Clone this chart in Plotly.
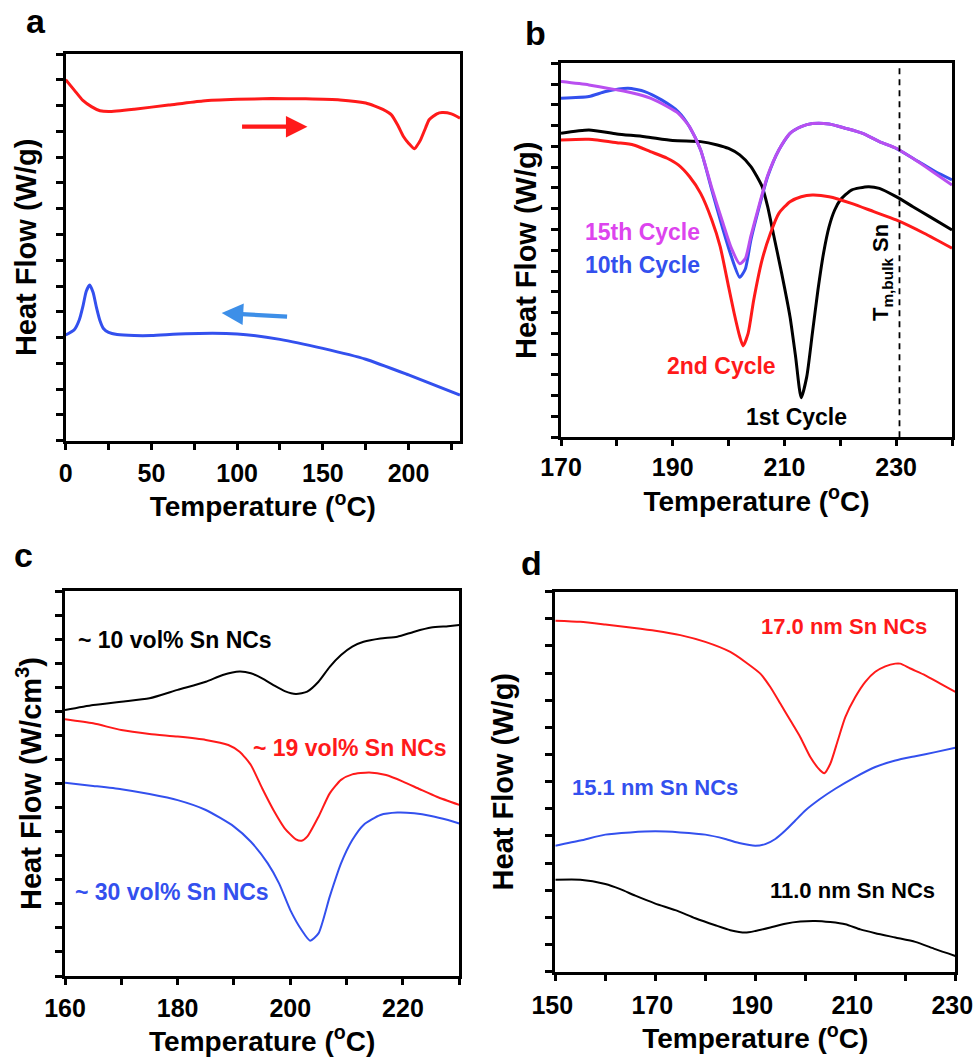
import plotly.graph_objects as go

# ---------------- data ----------------
# panel a
a_heat_T = [0, 5, 10, 15, 20, 25, 40, 60, 80, 100, 120, 140, 160, 175, 180, 185, 190, 194, 197, 200, 203.5, 205, 207, 210, 212, 216.5, 219.5, 225, 230]
a_heat_HF = [14.0, 13.6, 13.2, 12.96, 12.8, 12.77, 12.86, 13.02, 13.18, 13.24, 13.27, 13.26, 13.22, 13.1, 12.99, 12.85, 12.64, 12.2, 11.8, 11.54, 11.32, 11.45, 11.67, 12.15, 12.45, 12.68, 12.73, 12.68, 12.51]
a_cool_T = [0, 5, 8, 10, 12, 14, 16, 18, 20, 22, 25, 30, 40, 50, 70, 100, 125, 150, 175, 200, 230]
a_cool_HF = [4.1, 4.3, 4.7, 5.2, 5.8, 6.04, 5.75, 5.15, 4.65, 4.35, 4.2, 4.12, 4.08, 4.08, 4.15, 4.14, 3.93, 3.58, 3.16, 2.55, 1.77]
a_arrow_heat_x = [102, 141]
a_arrow_heat_y = [12.18, 12.18]
a_arrow_cool_x = [130, 91]
a_arrow_cool_y = [4.81, 4.95]

# panel b
b_T1 = [170, 175, 180, 185, 190, 195, 198, 200, 202, 204, 206, 207, 208, 209.5, 211, 212, 213, 214, 215, 216, 217, 218, 219, 220, 222, 225, 227, 230, 233, 236, 240]
b_HF1 = [14.63, 14.79, 14.6, 14.47, 14.28, 14.23, 14.07, 13.9, 13.59, 13.03, 12.07, 11.1, 9.82, 7.9, 5.8, 3.88, 1.9, 2.92, 5.0, 7.09, 8.86, 10.14, 10.94, 11.42, 11.9, 12.06, 11.98, 11.58, 11.1, 10.62, 9.98]
b_T2 = [170, 175, 180, 183, 186, 189, 191, 193, 195, 197, 198.5, 200, 201, 202, 202.6, 203.5, 204.5, 206, 207.5, 209, 211, 213, 215, 218, 222, 226, 230, 235, 240]
b_HF2 = [14.31, 14.34, 14.18, 14.07, 13.75, 13.43, 13.11, 12.55, 11.74, 10.46, 9.18, 7.25, 5.97, 4.85, 4.4, 5.0, 6.61, 8.54, 9.82, 10.78, 11.34, 11.58, 11.66, 11.58, 11.26, 10.86, 10.46, 9.82, 9.1]
b_T10 = [170, 175, 178, 182, 185, 188, 191, 193, 195, 197, 199, 200.5, 202, 203, 204, 205.5, 207, 209, 211, 213, 215, 218, 221, 224, 227, 230, 234, 237, 240]
b_HF10 = [16.32, 16.4, 16.64, 16.8, 16.64, 16.24, 15.67, 14.95, 13.83, 11.9, 10.0, 8.7, 7.7, 8.1, 9.5, 11.1, 12.55, 13.83, 14.63, 14.95, 15.1, 15.08, 14.87, 14.63, 14.23, 13.91, 13.27, 12.79, 12.39]
b_T15 = [170, 175, 180, 183, 186, 189, 191, 193, 195, 197, 199, 200.5, 202, 203, 204, 205.5, 207, 209, 211, 213, 215, 218, 221, 224, 227, 230, 234, 237, 240]
b_HF15 = [17.12, 16.96, 16.72, 16.56, 16.32, 15.92, 15.59, 14.95, 13.83, 12.0, 10.3, 9.1, 8.35, 8.6, 9.7, 11.2, 12.6, 13.83, 14.63, 14.95, 15.1, 15.08, 14.87, 14.63, 14.23, 13.91, 13.25, 12.7, 12.14]
b_Tm_bulk = 230.6

# panel c
c_T10 = [160, 165, 170, 175, 180, 185, 188, 191, 193, 195, 197, 199, 201, 203, 205, 207, 209, 211, 213, 216, 219, 222, 225, 228, 230]
c_HF10 = [11.05, 11.26, 11.4, 11.54, 11.89, 12.23, 12.51, 12.65, 12.58, 12.37, 12.09, 11.84, 11.72, 11.82, 12.23, 12.85, 13.34, 13.69, 13.89, 14.03, 14.1, 14.31, 14.48, 14.54, 14.59]
c_T19 = [160, 165, 170, 175, 180, 185, 189, 191, 193, 195, 197, 199, 201, 202, 203, 205, 207, 209, 211, 214, 217, 220, 223, 226, 230]
c_HF19 = [10.67, 10.5, 10.22, 10.06, 9.95, 9.81, 9.6, 9.32, 8.77, 7.8, 6.9, 6.14, 5.68, 5.62, 5.79, 6.62, 7.59, 8.15, 8.38, 8.46, 8.35, 8.08, 7.76, 7.45, 7.11]
c_T30 = [160, 165, 170, 175, 180, 185, 190, 193, 196, 198, 200, 202, 203.5, 205, 207, 209, 211, 213, 216, 219, 222, 225, 228, 230]
c_HF30 = [8.03, 7.9, 7.76, 7.56, 7.31, 6.9, 6.21, 5.58, 4.68, 3.85, 2.74, 1.91, 1.47, 1.77, 3.3, 4.68, 5.65, 6.28, 6.69, 6.79, 6.76, 6.65, 6.48, 6.34]

# panel d
d_T17 = [150, 155, 160, 165, 170, 175, 180, 185, 188, 191, 193, 195, 197, 199, 201, 203, 203.8, 205, 206.5, 208, 210, 212, 214, 216, 218, 219, 221, 224, 227, 230]
d_HF17 = [12.93, 12.89, 12.79, 12.68, 12.56, 12.4, 12.15, 11.78, 11.41, 10.98, 10.49, 9.88, 9.26, 8.64, 7.91, 7.41, 7.31, 7.66, 8.52, 9.38, 10.12, 10.68, 11.05, 11.25, 11.35, 11.35, 11.17, 10.92, 10.61, 10.31]
d_T15 = [150, 155, 160, 165, 170, 175, 180, 184, 187, 190, 192, 194, 196, 198, 200, 203, 206, 210, 214, 218, 222, 226, 230]
d_HF15 = [4.64, 4.83, 5.05, 5.13, 5.17, 5.13, 5.05, 4.89, 4.73, 4.64, 4.7, 4.89, 5.2, 5.57, 5.94, 6.37, 6.74, 7.17, 7.54, 7.78, 7.94, 8.09, 8.25]
d_T11 = [150, 155, 160, 163, 166, 170, 174, 178, 182, 185, 188, 190, 193, 196, 199, 202, 205, 208, 211, 214, 218, 222, 226, 230]
d_HF11 = [3.39, 3.39, 3.23, 3.04, 2.8, 2.51, 2.27, 1.97, 1.71, 1.53, 1.44, 1.5, 1.63, 1.77, 1.85, 1.87, 1.83, 1.75, 1.56, 1.42, 1.26, 1.1, 0.83, 0.58]

# ---------------- style ----------------
W, H = 974, 1057
FONT = "Liberation Sans, Arial, sans-serif"
RED = "#ff1a1a"
BLUE = "#3350ee"
MAGENTA = "#b94ff0"
LIGHTBLUE = "#3d8fe8"
BLACK = "#000000"


def px_x(a, b):
    return [a / W, b / W]


def px_y(top, bottom):
    return [1 - bottom / H, 1 - top / H]


fig = go.Figure()


def add_line(x, y, color, width, xa, ya, name):
    fig.add_trace(go.Scatter(x=x, y=y, mode="lines", name=name,
                             line=dict(color=color, width=width, shape="spline", smoothing=0.6),
                             xaxis=xa, yaxis=ya, showlegend=False, hoverinfo="skip"))


add_line(a_heat_T, a_heat_HF, RED, 3, "x", "y", "heating")
add_line(a_cool_T, a_cool_HF, BLUE, 3, "x", "y", "cooling")

add_line(b_T1, b_HF1, BLACK, 3, "x2", "y2", "1st Cycle")
add_line(b_T2, b_HF2, RED, 3, "x2", "y2", "2nd Cycle")
add_line(b_T10, b_HF10, BLUE, 3, "x2", "y2", "10th Cycle")
add_line(b_T15, b_HF15, MAGENTA, 3, "x2", "y2", "15th Cycle")

add_line(c_T10, c_HF10, BLACK, 2, "x3", "y3", "~10 vol%")
add_line(c_T19, c_HF19, RED, 2, "x3", "y3", "~19 vol%")
add_line(c_T30, c_HF30, BLUE, 2, "x3", "y3", "~30 vol%")

add_line(d_T17, d_HF17, RED, 2, "x4", "y4", "17.0 nm")
add_line(d_T15, d_HF15, BLUE, 2, "x4", "y4", "15.1 nm")
add_line(d_T11, d_HF11, BLACK, 2, "x4", "y4", "11.0 nm")

# vertical dashed line at bulk Sn melting temperature
fig.add_trace(go.Scatter(x=[b_Tm_bulk, b_Tm_bulk], y=[0, 18], mode="lines",
                         line=dict(color=BLACK, width=1.8, dash="6px,5px"),
                         xaxis="x2", yaxis="y2", showlegend=False, hoverinfo="skip"))

tickfont = dict(family=FONT, size=25, color="black", weight="bold")
titlefont = dict(family=FONT, size=28, color="black", weight="bold")
ytitlefont = dict(family=FONT, size=29, color="black", weight="bold")


def xaxis(domain, rng, dtick, minor, anchor, lstand, tstand, shift=0):
    return dict(domain=domain, range=rng, anchor=anchor, showline=True, mirror=True,
                linecolor="black", linewidth=3, ticks="outside", ticklen=6, tickwidth=2.5,
                tickcolor="black", tick0=rng[0], dtick=dtick,
                minor=dict(dtick=minor, tick0=rng[0], ticks="outside", ticklen=6, tickwidth=2.5, tickcolor="black"),
                tickfont=tickfont, ticklabelstandoff=lstand, ticklabelshift=shift,
                ticklabeloverflow="allow",
                showgrid=False, zeroline=False, automargin=False,
                title=dict(text="Temperature (<sup>o</sup>C)", font=titlefont, standoff=tstand))


def yaxis(domain, top, anchor, title, standoff):
    return dict(domain=domain, range=[0, top], anchor=anchor, showline=True, mirror=True,
                linecolor="black", linewidth=3, ticks="outside", ticklen=7, tickwidth=2.5,
                tickcolor="black", tick0=0, dtick=1, showticklabels=False,
                showgrid=False, zeroline=False, automargin=False,
                title=dict(text=title, font=ytitlefont, standoff=standoff))


fig.update_layout(
    width=W, height=H, margin=dict(l=0, r=0, t=0, b=0),
    paper_bgcolor="white", plot_bgcolor="white",
    xaxis=xaxis(px_x(65.7, 460), [0, 230], 50, 25, "y", 2, 8),
    yaxis=yaxis(px_y(54, 440.7), 15, "x", "Heat Flow (W/g)", 11),
    xaxis2=xaxis(px_x(561, 952), [170, 240], 20, 10, "y2", 0, 0),
    yaxis2=yaxis(px_y(63.3, 437.3), 18, "x2", "Heat Flow (W/g)", 6),
    xaxis3=xaxis(px_x(65, 459.3), [160, 230], 20, 10, "y3", 2, 4),
    yaxis3=yaxis(px_y(591, 976), 16, "x3", "Heat Flow (W/cm<sup>3</sup>)", 5),
    xaxis4=xaxis(px_x(555.3, 955.3), [150, 230], 20, 10, "y4", 3, 8, -3),
    yaxis4=yaxis(px_y(591.7, 971.7), 14, "x4", "Heat Flow (W/g)", 24),
)

ann = []
# panel letters
for letter, cx, cy in [("a", 35.5, 21), ("b", 535, 33), ("c", 23.3, 555), ("d", 531, 563)]:
    ann.append(dict(text=letter, x=cx / W, y=1 - cy / H, xref="paper", yref="paper",
                    showarrow=False, xanchor="center", yanchor="middle",
                    font=dict(family=FONT, size=34, color="black", weight="bold")))

lab = dict(family=FONT, size=23, weight="bold")
# panel b labels
ann += [
    dict(text="15th Cycle", x=184.6, y=9.9, xref="x2", yref="y2", showarrow=False, font=dict(lab, color="#dd44ee")),
    dict(text="10th Cycle", x=184.6, y=8.29, xref="x2", yref="y2", showarrow=False, font=dict(lab, color=BLUE)),
    dict(text="2nd Cycle", x=198.7, y=3.43, xref="x2", yref="y2", showarrow=False, font=dict(lab, color=RED)),
    dict(text="1st Cycle", x=212.1, y=0.96, xref="x2", yref="y2", showarrow=False, font=dict(lab, color=BLACK)),
    dict(text="T<sub>m,bulk</sub> Sn", x=227.6, y=7.94, xref="x2", yref="y2", showarrow=False, textangle=-90,
         font=dict(family=FONT, size=22, color="black", weight="bold")),
]
lab_c = dict(family=FONT, size=23, weight="bold")
lab_d = dict(family=FONT, size=22, weight="bold")
ann += [
    dict(text="~ 10 vol% Sn NCs", x=161.95, y=13.96, xref="x3", yref="y3", xanchor="left", showarrow=False, font=dict(lab_c, color=BLACK)),
    dict(text="~ 19 vol% Sn NCs", x=193.1, y=9.46, xref="x3", yref="y3", xanchor="left", showarrow=False, font=dict(lab_c, color=RED)),
    dict(text="~ 30 vol% Sn NCs", x=161.4, y=3.5, xref="x3", yref="y3", xanchor="left", showarrow=False, font=dict(lab_c, color=BLUE)),
    dict(text="17.0 nm Sn NCs", x=190.7, y=12.71, xref="x4", yref="y4", xanchor="left", showarrow=False, font=dict(lab_d, color=RED)),
    dict(text="15.1 nm Sn NCs", x=152.9, y=6.77, xref="x4", yref="y4", xanchor="left", showarrow=False, font=dict(lab_d, color=BLUE)),
    dict(text="11.0 nm Sn NCs", x=192.5, y=3.0, xref="x4", yref="y4", xanchor="left", showarrow=False, font=dict(lab_d, color=BLACK)),
]
# heating / cooling direction arrows in panel a
ann += [
    dict(text="", x=a_arrow_heat_x[1], y=a_arrow_heat_y[1], ax=a_arrow_heat_x[0], ay=a_arrow_heat_y[0],
         xref="x", yref="y", axref="x", ayref="y", showarrow=True, arrowhead=2, arrowsize=1.0,
         arrowwidth=4.3, arrowcolor=RED),
    dict(text="", x=a_arrow_cool_x[1], y=a_arrow_cool_y[1], ax=a_arrow_cool_x[0], ay=a_arrow_cool_y[0],
         xref="x", yref="y", axref="x", ayref="y", showarrow=True, arrowhead=2, arrowsize=1.0,
         arrowwidth=4.3, arrowcolor=LIGHTBLUE),
]
fig.update_layout(annotations=ann)

fig.write_html("out.html")
